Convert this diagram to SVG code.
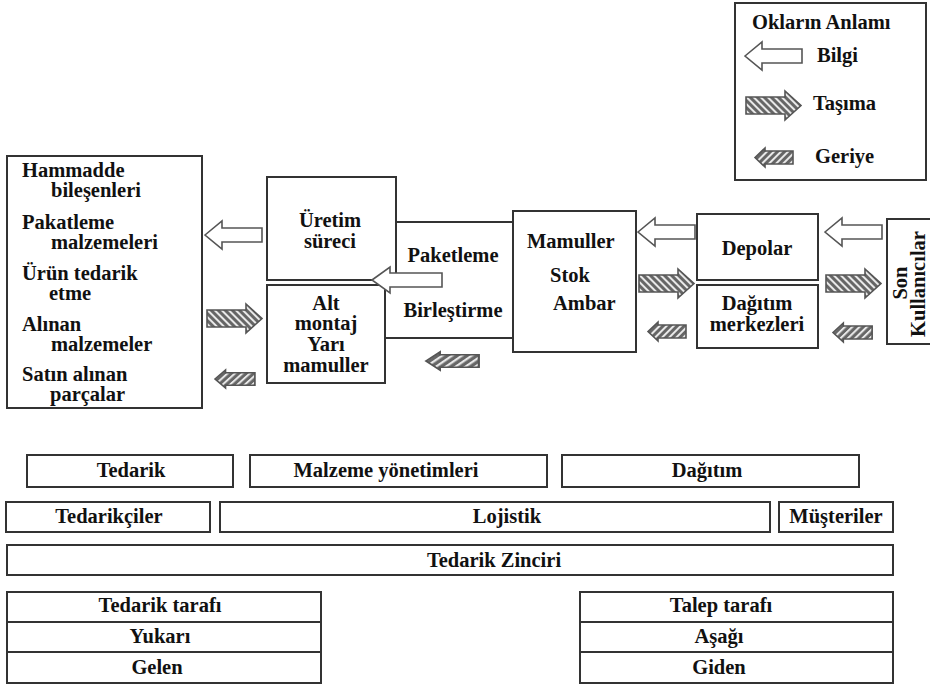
<svg xmlns="http://www.w3.org/2000/svg" xmlns:xlink="http://www.w3.org/1999/xlink" width="930" height="687" viewBox="0 0 930 687">
<style>
.box{fill:#fff;stroke:#333;stroke-width:2}
.ln{fill:none;stroke:#333;stroke-width:2}
.t{font-family:'Liberation Serif','Times New Roman',serif;font-size:20.5px;font-weight:bold;fill:#111}
.m{text-anchor:middle}
.info{fill:#fff;stroke:#555;stroke-width:1.6;vector-effect:non-scaling-stroke}
.move{fill:url(#hatchR);stroke:#555;stroke-width:1.6;vector-effect:non-scaling-stroke}
.back{fill:url(#hatchL);stroke:#555;stroke-width:1.6;vector-effect:non-scaling-stroke}
</style>
<defs>
<pattern id="hatchR" patternUnits="userSpaceOnUse" width="5" height="5" patternTransform="rotate(-45)"><rect width="5" height="5" fill="#666"/><rect width="2" height="5" fill="#e8e8e8"/></pattern>
<pattern id="hatchL" patternUnits="userSpaceOnUse" width="5" height="5" patternTransform="rotate(45)"><rect width="5" height="5" fill="#666"/><rect width="2" height="5" fill="#e8e8e8"/></pattern>
<path id="infoA" d="M0,14 L17,0 L17,7 L57,7 L57,21 L17,21 L17,28 Z"/>
<path id="moveA" d="M0,6 L39,6 L39,0 L55,14.5 L39,29 L39,23 L0,23 Z"/>
<path id="backA" d="M0,9.5 L10,0 L10,3 L38,3 L38,16 L10,16 L10,19 Z"/>
</defs>
<rect width="930" height="687" fill="#fff"/>

<g id="legend">
<rect class="box" x="735" y="3" width="191" height="177"/>
<text class="t" x="752" y="29">Okların Anlamı</text>
<use xlink:href="#infoA" class="info" transform="translate(745,42)"/>
<text class="t" x="817" y="62">Bilgi</text>
<use xlink:href="#moveA" class="move" transform="translate(746,91)"/>
<text class="t" x="813" y="110">Taşıma</text>
<use xlink:href="#backA" class="back" transform="translate(755,148)"/>
<text class="t" x="815" y="163">Geriye</text>
</g>

<g id="suppliers">
<rect class="box" x="7" y="156" width="195" height="252"/>
<text class="t" x="22" y="177">Hammadde</text>
<text class="t" x="51" y="197">bileşenleri</text>
<text class="t" x="22" y="229">Pakatleme</text>
<text class="t" x="51" y="249">malzemeleri</text>
<text class="t" x="22" y="280">Ürün tedarik</text>
<text class="t" x="49" y="300">etme</text>
<text class="t" x="22" y="331">Alınan</text>
<text class="t" x="51" y="351">malzemeler</text>
<text class="t" x="22" y="381">Satın alınan</text>
<text class="t" x="50" y="401">parçalar</text>
</g>

<g id="uretim">
<rect class="box" x="267" y="177" width="129" height="103"/>
<text class="t m" x="330" y="227">Üretim</text>
<text class="t m" x="330" y="248">süreci</text>
</g>

<g id="altmontaj">
<rect class="box" x="267" y="285" width="118" height="98"/>
<text class="t m" x="326" y="310">Alt</text>
<text class="t m" x="326" y="330">montaj</text>
<text class="t m" x="326" y="351">Yarı</text>
<text class="t m" x="326" y="372">mamuller</text>
</g>

<g id="paketleme">
<line class="ln" x1="396" y1="222" x2="513" y2="222"/>
<line class="ln" x1="385" y1="338" x2="513" y2="338"/>
<text class="t m" x="453" y="262">Paketleme</text>
<text class="t m" x="453" y="317">Birleştirme</text>
</g>

<g id="mamuller">
<rect class="box" x="513" y="211" width="123" height="141"/>
<text class="t" x="527" y="248">Mamuller</text>
<text class="t" x="550" y="282">Stok</text>
<text class="t" x="553" y="310">Ambar</text>
</g>

<g id="depolar">
<rect class="box" x="697" y="214" width="121" height="66"/>
<text class="t m" x="757" y="255">Depolar</text>
</g>

<g id="dagitim-merkez">
<rect class="box" x="697" y="285" width="121" height="63"/>
<text class="t m" x="757" y="310">Dağıtım</text>
<text class="t m" x="757" y="331">merkezleri</text>
</g>

<g id="son-kullanicilar">
<rect class="box" x="887" y="219" width="60" height="125"/>
<text class="t m" transform="translate(907,283) rotate(-90)">Son</text>
<text class="t m" transform="translate(925,284) rotate(-90)">Kullanıcılar</text>
</g>

<g id="connectors">
<use xlink:href="#infoA" class="info" transform="translate(205,221)"/>
<use xlink:href="#moveA" class="move" transform="translate(207,304)"/>
<use xlink:href="#backA" class="back" transform="translate(215,370) scale(1.05,0.95)"/>
<path class="info" d="M372,280 L390,267 L390,273 L442,273 L442,287 L390,287 L390,293 Z"/>
<use xlink:href="#backA" class="back" transform="translate(426,352) scale(1.39,0.95)"/>
<use xlink:href="#infoA" class="info" transform="translate(638,218)"/>
<use xlink:href="#moveA" class="move" transform="translate(639,269)"/>
<use xlink:href="#backA" class="back" transform="translate(648,322)"/>
<use xlink:href="#infoA" class="info" transform="translate(825,218)"/>
<use xlink:href="#moveA" class="move" transform="translate(826,269)"/>
<use xlink:href="#backA" class="back" transform="translate(833,323) scale(1.03,1)"/>
</g>

<g id="tedarik">
<rect class="box" x="27" y="455" width="206" height="32"/>
<text class="t m" x="131" y="477">Tedarik</text>
</g>
<g id="malzeme">
<rect class="box" x="250" y="455" width="297" height="32"/>
<text class="t m" x="386" y="477">Malzeme yönetimleri</text>
</g>
<g id="dagitim">
<rect class="box" x="562" y="455" width="297" height="32"/>
<text class="t m" x="707" y="477">Dağıtım</text>
</g>
<g id="tedarikciler">
<rect class="box" x="6" y="502" width="204" height="30"/>
<text class="t m" x="109" y="523">Tedarikçiler</text>
</g>
<g id="lojistik">
<rect class="box" x="220" y="502" width="550" height="30"/>
<text class="t m" x="507" y="523">Lojistik</text>
</g>
<g id="musteriler">
<rect class="box" x="779" y="502" width="114" height="30"/>
<text class="t m" x="836" y="523">Müşteriler</text>
</g>
<g id="tedarik-zinciri">
<rect class="box" x="7" y="545" width="886" height="30"/>
<text class="t m" x="494" y="567">Tedarik Zinciri</text>
</g>

<g id="tedarik-tarafi">
<rect class="box" x="7" y="592" width="314" height="91"/>
<line class="ln" x1="7" y1="622" x2="321" y2="622"/>
<line class="ln" x1="7" y1="652" x2="321" y2="652"/>
<text class="t m" x="160" y="612">Tedarik tarafı</text>
<text class="t m" x="160" y="643">Yukarı</text>
<text class="t m" x="157" y="674">Gelen</text>
</g>

<g id="talep-tarafi">
<rect class="box" x="580" y="592" width="313" height="91"/>
<line class="ln" x1="580" y1="622" x2="893" y2="622"/>
<line class="ln" x1="580" y1="652" x2="893" y2="652"/>
<text class="t m" x="721" y="612">Talep tarafı</text>
<text class="t m" x="719" y="643">Aşağı</text>
<text class="t m" x="719" y="674">Giden</text>
</g>
</svg>
